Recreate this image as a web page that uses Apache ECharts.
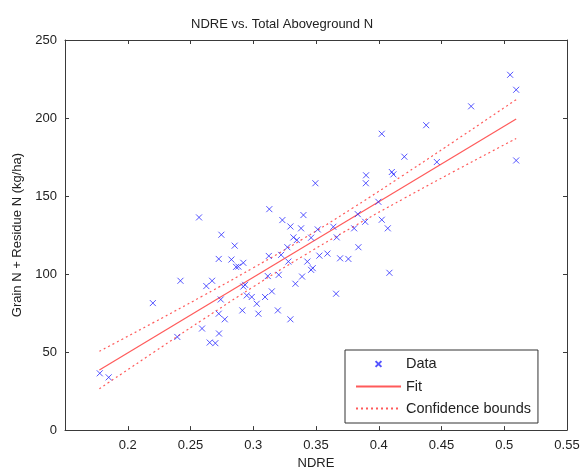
<!DOCTYPE html>
<html>
<head>
<meta charset="utf-8">
<script src="https://cdn.jsdelivr.net/npm/echarts@6/dist/echarts.min.js"></script>
<style>html,body{margin:0;padding:0;background:#fff;}#c{width:587px;height:475px;}</style>
</head>
<body>
<div id="c"></div>
<script>
var xTicks = [0.15, 0.2, 0.25, 0.3, 0.35, 0.4, 0.45, 0.5, 0.55];
var yTicks = [0, 50, 100, 150, 200, 250];
var dataPoints = [
  [0.1777,36.4],[0.1848,33.8],[0.220,81.4],[0.242,95.7],[0.2395,59.7],[0.2568,136.3],[0.2746,125.2],
  [0.2852,118.2],[0.2725,109.7],[0.2826,109.3],[0.2863,104.6],[0.2626,92.3],[0.2672,95.7],[0.2741,83.7],
  [0.2725,74.6],[0.2773,71.0],[0.2592,65.1],[0.2727,61.9],[0.2653,56.1],[0.2698,55.7],
  [0.3495,158.2],[0.3128,141.6],[0.3400,137.8],[0.3232,134.6],[0.3296,130.5],[0.3381,129.3],[0.3514,128.6],
  [0.3638,130.3],[0.3833,138.4],[0.3804,129.3],[0.3665,123.5],[0.3461,123.3],[0.3320,123.5],[0.3347,121.8],
  [0.3272,117.2],[0.3222,112.3],[0.3124,111.6],[0.3280,108.0],[0.3431,108.0],[0.3527,111.8],[0.3591,113.1],
  [0.3692,110.1],[0.3758,109.7],[0.3838,117.2],[0.2921,107.2],[0.2881,104.8],[0.3474,103.8],[0.3461,102.7],
  [0.3389,98.4],[0.3203,99.5],[0.3116,98.7],[0.3336,93.8],[0.2935,93.1],[0.2921,92.0],[0.2948,86.3],[0.2988,85.3],
  [0.3148,88.9],[0.3094,85.3],[0.3028,81.0],[0.2913,76.7],[0.3041,74.6],[0.3196,76.7],[0.3296,71.0],[0.3660,87.4],
  [0.4378,195.4],[0.4024,189.9],[0.4204,175.2],[0.4463,171.8],[0.3899,163.3],[0.4104,165.4],[0.4117,163.9],
  [0.3897,158.2],[0.3997,146.3],[0.3892,133.5],[0.4024,134.8],[0.4072,129.3],[0.4085,100.8],
  [0.5047,227.7],[0.5095,218.1],[0.4736,207.5],[0.5095,172.8]
];
var fitLine = [[0.1774,38.45],[0.5095,199.35]];
var boundX = [0.1774, 0.22, 0.26, 0.30, 0.34, 0.38, 0.42, 0.46, 0.5095];
var upperBound = [50.5, 68.7, 86.1, 104.0, 122.7, 142.7, 163.6, 185.0, 211.8];
var lowerBound = [26.5, 49.5, 70.9, 91.8, 111.7, 130.5, 148.4, 165.8, 186.9];

var FONT = 'Liberation Sans, Arial, Helvetica, sans-serif';
var AX = '#3a3a3a';
var RED = '#ff5a5a';
var BLUE = '#2a2aff';
var xMarker = 'path://M0,0L10,10M10,0L0,10';
var xLegendMarker = 'path://M-7,-7M17,17M0,0L10,10M10,0L0,10';

function pairs(xs, ys){ return xs.map(function(x,i){ return [x, ys[i]]; }); }

var chart = echarts.init(document.getElementById('c'), null, {renderer:'canvas'});
var common = {
  axisLine:{show:true, onZero:false, lineStyle:{color:AX, width:1}},
  axisTick:{show:true, inside:true, length:4, lineStyle:{color:AX}},
  splitLine:{show:false}
};
var hiddenSym = {color:'rgba(0,0,0,0)', borderWidth:0, borderColor:'rgba(0,0,0,0)'};
chart.setOption({
  animation:false,
  backgroundColor:'#ffffff',
  title:{text:'NDRE vs. Total Aboveground N', left:186, top:13,
    textStyle:{fontFamily:FONT, fontSize:13, fontWeight:'normal', color:'#222'}},
  grid:{left:65, top:40, width:502, height:392, containLabel:false},
  legend:{
    orient:'vertical', left:345, top:350, padding:[6,7,7,10], itemGap:7,
    itemWidth:45, itemHeight:14, borderColor:'#333', borderWidth:1, backgroundColor:'#fff',
    textStyle:{fontFamily:FONT, fontSize:14.5, color:'#222'},
    data:[
      {name:'Data', icon:xLegendMarker},
      {name:'Fit', itemStyle:hiddenSym},
      {name:'Confidence bounds', itemStyle:hiddenSym}
    ]
  },
  xAxis:[
    Object.assign({type:'value', min:0.15, max:0.55, interval:0.05, position:'bottom',
      name:'NDRE', nameLocation:'middle', nameGap:24,
      nameTextStyle:{fontFamily:FONT, fontSize:13, color:'#222'},
      axisLabel:{fontFamily:FONT, fontSize:13, color:'#222', margin:9,
        formatter:function(v){ var r=Math.round(v*100)/100; if(Math.abs(r-xTicks[0])<1e-9) return ''; return String(r); }}
    }, common),
    Object.assign({type:'value', min:0.15, max:0.55, interval:0.05, position:'top',
      axisLabel:{show:false}}, common)
  ],
  yAxis:[
    Object.assign({type:'value', min:yTicks[0], max:yTicks[yTicks.length-1], interval:50, position:'left',
      name:'Grain N + Residue N (kg/ha)', nameLocation:'middle', nameGap:41,
      nameTextStyle:{fontFamily:FONT, fontSize:13, color:'#222'},
      axisLabel:{fontFamily:FONT, fontSize:13, color:'#222', margin:8}
    }, common),
    Object.assign({type:'value', min:yTicks[0], max:yTicks[yTicks.length-1], interval:50, position:'right',
      axisLabel:{show:false}}, common)
  ],
  series:[
    {name:'Data', type:'scatter', data:dataPoints, symbol:xMarker, symbolSize:6, symbolKeepAspect:true,
      itemStyle:{color:'rgba(0,0,0,0)', borderColor:BLUE, borderWidth:1}, z:3},
    {name:'Fit', type:'line', data:fitLine, symbol:'none', showSymbol:false,
      itemStyle:{color:RED}, lineStyle:{color:RED, width:1.2}, z:2},
    {name:'Confidence bounds', type:'line', data:pairs(boundX, upperBound), symbol:'none', showSymbol:false, smooth:true,
      itemStyle:{color:RED}, lineStyle:{color:RED, width:1.2, type:[2,3]}, z:2},
    {name:'Confidence bounds', type:'line', data:pairs(boundX, lowerBound), symbol:'none', showSymbol:false, smooth:true,
      itemStyle:{color:RED}, lineStyle:{color:RED, width:1.2, type:[2,3]}, z:2}
  ]
});
</script>
</body>
</html>
